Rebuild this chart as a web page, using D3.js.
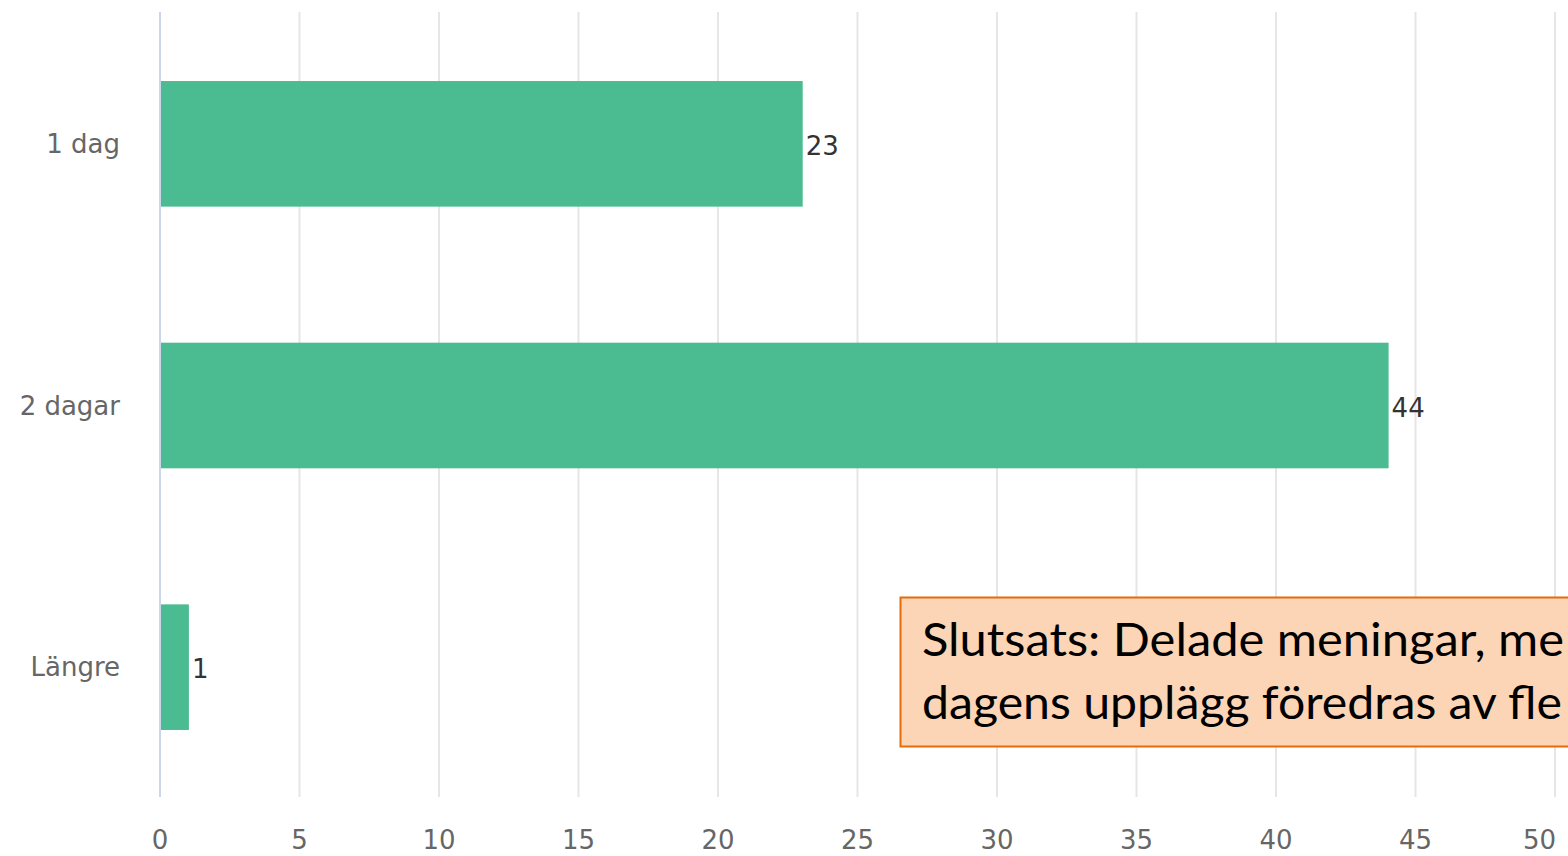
<!DOCTYPE html>
<html>
<head>
<meta charset="utf-8">
<script src="https://cdn.jsdelivr.net/npm/d3@7/dist/d3.min.js"></script>
<style>
	body { margin: 0; background: #fff; }
	svg { display: block; font-family: "DejaVu Sans", sans-serif; }
</style>
</head>
<body>
<div id="chart"></div>
<script>
	// categories + values
	var categories = ["1 dag", "2 dagar", "Längre"];
	var values = [23, 44, 1];
	var xTicks = [0, 5, 10, 15, 20, 25, 30, 35, 40, 45, 50];
	// only the part of the note that is visible in the picture
	var noteLines = ["Slutsats: Delade meningar, me", "dagens upplägg föredras av fle"];

	var width = 1568, height = 856;

	var svg = d3.select("#chart").append("svg")
		.attr("width", width)
		.attr("height", height);

	var x = d3.scaleLinear()
		.domain([0, 50])
		.range([160, 1555]);

	var y = d3.scaleBand()
		.domain(categories)
		.range([13, 798])
		.paddingInner(0.52)
		.paddingOuter(0.26);

	// grid lines
	svg.append("g").selectAll("line")
		.data(xTicks)
		.enter().append("line")
		.attr("x1", function (d) { return x(d); })
		.attr("x2", function (d) { return x(d); })
		.attr("y1", 12)
		.attr("y2", 797)
		.attr("stroke", function (d) { return d === 0 ? "#ccd6eb" : "#e6e6e6"; })
		.attr("stroke-width", 2);

	// x tick labels (last one pulled inside like highcharts does)
	svg.append("g").selectAll("text")
		.data(xTicks)
		.enter().append("text")
		.attr("x", function (d) { return d === 50 ? x(d) + 1 : x(d); })
		.attr("y", 849)
		.attr("text-anchor", function (d) { return d === 50 ? "end" : "middle"; })
		.attr("fill", "#666")
		.style("font-size", "26px")
		.text(function (d) { return d; });

	// category labels
	svg.append("g").selectAll("text")
		.data(categories)
		.enter().append("text")
		.attr("x", 120)
		.attr("y", function (d) { return y(d) + y.bandwidth() / 2; })
		.attr("dy", "0.35em")
		.attr("text-anchor", "end")
		.attr("fill", "#666")
		.style("font-size", "26px")
		.text(function (d) { return d; });

	// bars
	svg.append("g").selectAll("rect")
		.data(values)
		.enter().append("rect")
		.attr("x", x(0) + 1)
		.attr("y", function (d, i) { return y(categories[i]); })
		.attr("width", function (d) { return x(d) - x(0); })
		.attr("height", y.bandwidth())
		.attr("fill", "#4bbb92");

	// value labels
	svg.append("g").selectAll("text")
		.data(values)
		.enter().append("text")
		.attr("x", function (d) { return x(d) + 4; })
		.attr("y", function (d, i) { return y(categories[i]) + y.bandwidth() / 2 + 2; })
		.attr("dy", "0.35em")
		.attr("fill", "#333")
		.style("font-size", "26px")
		.text(function (d) { return d; });

	// conclusion box (runs off the right edge)
	var note = svg.append("g");
	note.append("rect")
		.attr("x", 900.5)
		.attr("y", 597.5)
		.attr("width", 720)
		.attr("height", 149)
		.attr("fill", "#fbd5b5")
		.attr("stroke", "#e46c0a")
		.attr("stroke-width", 2);

	note.selectAll("text")
		.data(noteLines)
		.enter().append("text")
		.attr("x", 922)
		.attr("y", function (d, i) { return 656 + i * 63; })
		.attr("fill", "#000")
		.attr("textLength", function (d, i) { return i === 0 ? 642 : 640; })
		.attr("lengthAdjust", "spacingAndGlyphs")
		.style("font-family", "Lato, sans-serif")
		.style("font-size", "46px")
		.text(function (d) { return d; });
</script>
</body>
</html>
